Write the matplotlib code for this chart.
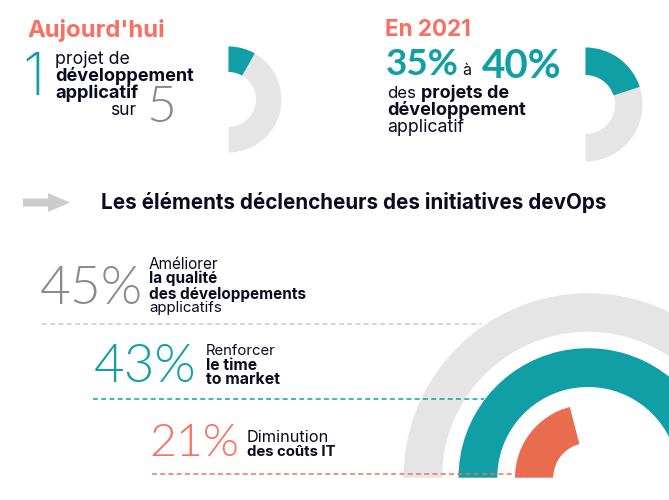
import matplotlib
matplotlib.use("Agg")
import matplotlib.pyplot as plt
from matplotlib.patches import Wedge, Polygon

W, H = 669, 500
TEAL, GRAY, ORANGE, CORAL = "#109FA5", "#E5E5E5", "#E96C4F", "#FB6F60"
INK = "#0A0A20"

# ---- data
today_share = 0.165   # of half ring as drawn
future_share = 0.40   # of half ring as drawn
driver_values = [45, 43, 21]
driver_labels = ["45%", "43%", "21%"]

fig = plt.figure(figsize=(W/100, H/100), dpi=100)
ax = fig.add_axes([0, 0, 1, 1])
ax.set_xlim(0, W); ax.set_ylim(H, 0); ax.axis("off")
R = fig.canvas.get_renderer()

def wedge(cx, cy, r_out, r_in, start, sweep, color, z=1):
    # angles are clockwise on screen from 12 o'clock; the inverted y axis makes
    # matplotlib's counter-clockwise angles run clockwise on screen
    a0 = start - 90
    ax.add_patch(Wedge((cx, cy), r_out, a0, a0 + sweep, width=r_out - r_in,
                       facecolor=color, edgecolor="none", zorder=z))

def T(x, y, s, width, weight="regular", color=INK, family="Inter", z=5):
    t = ax.text(x, y, s, fontsize=20, fontweight=weight, color=color, family=family,
                va="baseline", ha="left", zorder=z)
    w = t.get_window_extent(R).width
    t.set_fontsize(20 * width / w)
    return t

# top-left half ring
wedge(228.5, 99.5, 53, 27.5, 0, 180, GRAY)
wedge(228.5, 99.5, 53, 27.5, 0, 180 * today_share, TEAL, 2)
# top-right half ring
wedge(585.5, 104.5, 57, 29.5, 0, 180, GRAY)
wedge(585.5, 104.5, 57, 29.5, 0, 180 * future_share, TEAL, 2)

# driver arcs
cx, cy = 588, 477.7
for v, ro, ri, c in zip(driver_values, (184.5, 129.5, 73), (146, 90.7, 34.7), (GRAY, TEAL, ORANGE)):
    wedge(cx, cy, ro, ri, -90, 360 * v / 100, c, 1)

# leader lines
for (x0, x1, y), c in zip(((42, 481, 323.5), (93, 484, 398.5), (152, 525, 473.5)),
                          ("#C9C9C9", TEAL, "#F0705F")):
    ax.plot([x0, x1], [y, y], color=c, lw=1.1, dashes=(3.2, 2.2), zorder=3)

# arrow
ax.add_patch(Polygon([(23, 198.5), (48, 198.5), (48, 193), (70, 202.5), (48, 212), (48, 206.5), (23, 206.5)],
                     facecolor="#CCCCCC", edgecolor="none"))

# headers
T(27, 37.5, "Aujourd'hui", 138, "bold", CORAL)
T(385, 36, "En 2021", 86, "bold", CORAL)
T(101, 209, "Les éléments déclencheurs des initiatives devOps", 505, "bold")

# left block
T(22, 95, "1", 22, "light", TEAL)
T(55, 64, "projet de", 75)
T(55, 81, "développement", 139, "bold")
T(55, 98, "applicatif", 83, "bold")
T(110, 115, "sur", 26)
T(146, 121.5, "5", 30, 300, "#8A8A8A", "Lato")

# right block
T(386, 75, "35%", 73, "bold", TEAL, "Lato")
T(462, 75, "à", 9)
T(482, 78, "40%", 80, "bold", TEAL, "Lato")
T(387, 98, "des", 29)
T(421, 98, "projets de", 88, "bold")
T(387, 115, "développement", 139, "bold")
T(387, 132, "applicatif", 77)

# drivers
T(40, 304, driver_labels[0], 103, 300, "#8A8A8A", "Lato")
T(149, 269, "Améliorer", 70)
T(149, 283.5, "la qualité", 68, "bold")
T(149, 299, "des développements", 157, "bold")
T(149, 312, "applicatifs", 73)

T(93.5, 381.5, driver_labels[1], 103, 300, TEAL, "Lato")
T(206, 355, "Renforcer", 70)
T(206, 369.5, "le time", 51, "bold")
T(206, 384, "to market", 74, "bold")

T(149.5, 456.5, driver_labels[2], 90, 300, CORAL, "Lato")
T(247, 442, "Diminution", 82)
T(247, 456.5, "des coûts IT", 89, "bold")

fig.savefig("out.png", dpi=100, facecolor="white")
